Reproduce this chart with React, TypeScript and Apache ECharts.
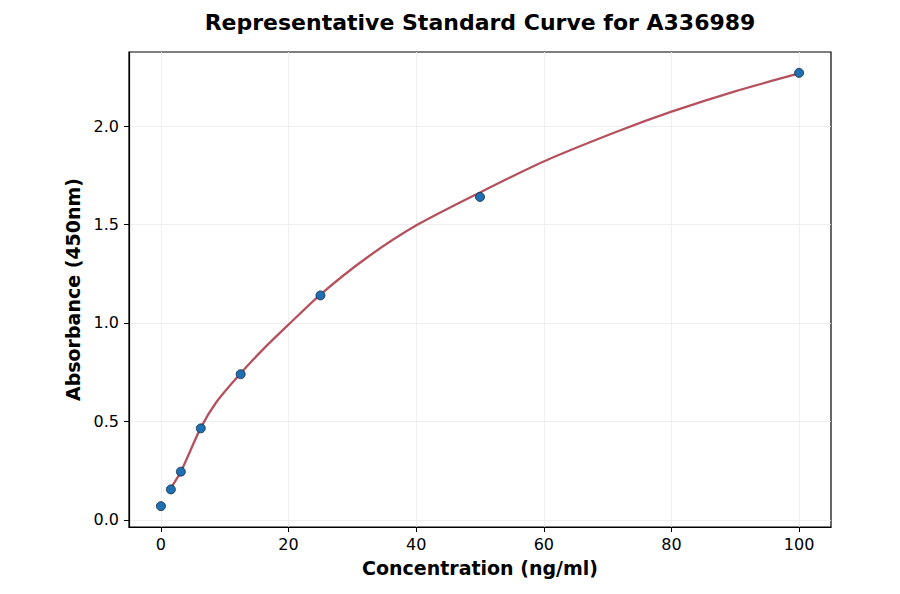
import React, { useEffect, useRef } from 'react';
import * as echarts from 'echarts';

// Standard points (concentration ng/ml, absorbance 450nm)
const concentrations = [0, 1.5625, 3.125, 6.25, 12.5, 25, 50, 100];
const absorbances = [0.07, 0.155, 0.245, 0.465, 0.74, 1.14, 1.64, 2.27];

// Fitted curve
const curveX = [1.52, 3.125, 6.22, 8.73, 12.4, 16.0, 19.95, 24.9, 32.2, 40.1, 50, 59.9, 71.4, 80.0, 89.7, 100];
const curveY = [0.161, 0.245, 0.466, 0.6, 0.741, 0.866, 0.99, 1.142, 1.33, 1.497, 1.663, 1.819, 1.971, 2.073, 2.174, 2.267];

const xTicks = [0, 20, 40, 60, 80, 100];
const yTicks = [0, 0.5, 1.0, 1.5, 2.0];

const FONT = 'DejaVu Sans';

const App: React.FC = () => {
  const chartRef = useRef<HTMLDivElement>(null);

  useEffect(() => {
    if (!chartRef.current) return;
    const chart = echarts.init(chartRef.current, null, { renderer: 'svg' });

    const option: echarts.EChartsOption = {
      animation: false,
      backgroundColor: '#ffffff',
      // title centred over the plot area, not the page
      graphic: [
        {
          type: 'text',
          x: 480,
          y: 22,
          style: {
            text: 'Representative Standard Curve for A336989',
            fontFamily: FONT,
            fontSize: 22,
            fontWeight: 'bold',
            fill: '#000',
            align: 'center',
            verticalAlign: 'middle'
          }
        }
      ],
      grid: {
        left: 129,
        right: 69,
        top: 52,
        bottom: 67,
        show: true,
        borderColor: '#000',
        borderWidth: 1.2,
        backgroundColor: 'transparent'
      },
      xAxis: {
        type: 'value',
        min: -5,
        max: 105,
        name: 'Concentration (ng/ml)',
        nameLocation: 'middle',
        nameGap: 31,
        nameTextStyle: { fontFamily: FONT, fontSize: 19, fontWeight: 'bold', color: '#000' },
        axisLine: { show: true, onZero: false, lineStyle: { color: '#000', width: 1.2 } },
        axisTick: { show: true, length: 5, lineStyle: { color: '#000' }, customValues: xTicks },
        axisLabel: {
          fontFamily: FONT,
          fontSize: 16,
          color: '#000',
          margin: 9,
          customValues: xTicks
        },
        splitLine: { show: true, lineStyle: { color: '#ebebeb', width: 0.8 } }
      },
      yAxis: {
        type: 'value',
        min: -0.036,
        max: 2.376,
        name: 'Absorbance (450nm)',
        nameLocation: 'middle',
        nameGap: 43,
        nameTextStyle: { fontFamily: FONT, fontSize: 19, fontWeight: 'bold', color: '#000' },
        axisLine: { show: true, onZero: false, lineStyle: { color: '#000', width: 1.2 } },
        axisTick: { show: true, length: 5, lineStyle: { color: '#000' }, customValues: yTicks },
        axisLabel: {
          fontFamily: FONT,
          fontSize: 16,
          color: '#000',
          margin: 10,
          customValues: yTicks,
          formatter: (v: number) => v.toFixed(1)
        },
        splitLine: { show: true, lineStyle: { color: '#ebebeb', width: 0.8 } }
      },
      series: [
        {
          type: 'line',
          data: curveX.map((x, i) => [x, curveY[i]]),
          smooth: 0.25,
          showSymbol: false,
          lineStyle: { color: '#b5515f', width: 2.3 },
          z: 2
        },
        {
          type: 'scatter',
          data: concentrations.map((x, i) => [x, absorbances[i]]),
          symbolSize: 9,
          itemStyle: { color: '#1f6fb2', borderColor: '#0e2a44', borderWidth: 0.8, opacity: 1 },
          z: 3
        }
      ]
    };

    chart.setOption(option);
    return () => {
      chart.dispose();
    };
  }, []);

  return <div ref={chartRef} style={{ width: 900, height: 594, margin: -8 }} />;
};

export default App;
